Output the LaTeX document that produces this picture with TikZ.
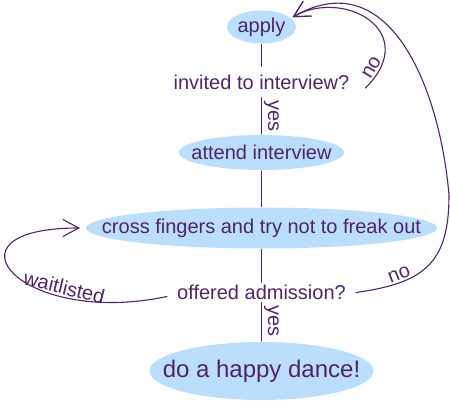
\documentclass[tikz,border=0pt]{standalone}
\usepackage{fontspec}
\setmainfont{Liberation Sans}
\usetikzlibrary{shapes.geometric,arrows.meta}
\definecolor{ink}{RGB}{78,38,100}
\definecolor{bubblefill}{RGB}{186,222,252}
\begin{document}
\begin{tikzpicture}[x=1pt,y=1pt,line join=round,
  every node/.style={text=ink,font=\fontsize{20}{24}\selectfont},
  bubble/.style={ellipse,fill=bubblefill,inner sep=-40pt,outer sep=1pt},
  question/.style={inner xsep=10pt,inner ysep=2.5pt},
  edgelbl/.style={inner sep=2pt},
  flow/.style={draw=ink,line width=1.1pt,line cap=round},
  >={Straight Barb[length=16pt,width=17pt]}]
\useasboundingbox (0,0) rectangle (450,400);
\node[bubble,minimum width=69pt,minimum height=33pt] (apply) at (261.5,373) {apply};
\node[question,inner xsep=16pt,inner ysep=8pt] (invited) at (261.5,318) {invited to interview?};
\node[bubble,minimum width=165pt,minimum height=35pt] (attend) at (261.5,247.5) {attend interview};
\node[bubble,minimum width=351pt,minimum height=41pt] (cross) at (261.5,172) {cross fingers and try not to freak out};
\node[question] (offered) at (261.5,107.5) {offered admission?};
\node[bubble,minimum width=224pt,minimum height=58pt,font=\fontsize{24}{29}\selectfont] (happy) at (261.5,29) {do a happy dance!};
\coordinate (farright) at (449,205);
% straight flow
\draw[flow] (apply) -- (invited);
\draw[flow] (invited) -- node[edgelbl,pos=0,rotate=-90,anchor=south west] {yes} (attend);
\draw[flow] (attend) -- (cross);
\draw[flow] (cross) -- (offered);
\draw[flow] (offered) -- node[edgelbl,pos=0,rotate=-90,anchor=south west] {yes} (happy);
% loops back
\draw[flow,->,shorten >=1pt] ([yshift=-6pt]invited.east) .. controls +(45:80) and +(30:60) .. node[edgelbl,sloped,above,pos=.1] {no} (apply.17);
\draw[flow,->,shorten >=1pt] (offered.east) to[out=8,in=-90,looseness=1.3] node[edgelbl,sloped,above,pos=.27] {no} (farright) to[out=95,in=30,looseness=1.2] (apply.17);
\draw[flow,->,shorten >=5pt] ([yshift=-4pt]offered.west) .. controls +(192:150) and +(180:150) .. node[edgelbl,sloped,above,pos=.28] {waitlisted} (cross.west);
\end{tikzpicture}
\end{document}
